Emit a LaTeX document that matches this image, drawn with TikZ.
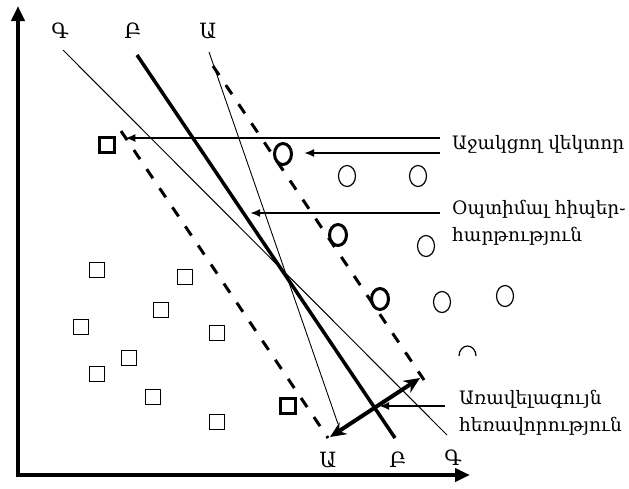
\documentclass[tikz,border=0pt]{standalone}
\usepackage{fontspec}
\newfontfamily\armfont{DejaVu Serif}
\usetikzlibrary{arrows.meta,shapes.geometric}

\tikzset{
  cuad/.style={draw, line width=1.3pt, minimum size=15pt, inner sep=0pt},
  cuadsv/.style={cuad, line width=3.5pt},
  circ/.style={draw, ellipse, line width=1.2pt, minimum width=17pt, minimum height=21pt, inner sep=0pt},
  circsv/.style={circ, line width=3pt},
  etiq/.style={font=\armfont\fontsize{21}{26}\selectfont, inner sep=0pt},
  texto/.style={font=\armfont\fontsize{18.5}{27}\selectfont, inner sep=0pt, anchor=west, align=left},
  flecha/.style={line width=2pt, -{Latex[length=10pt,width=8pt]}}
}

\begin{document}
\begin{tikzpicture}[x=1pt,y=-1pt]
    \useasboundingbox (0,0) rectangle (629,488);

    % Ejes
    \coordinate (o) at (18,475);
    \coordinate (yfin) at (18,6);
    \coordinate (xfin) at (470,475);
    \draw[line width=4pt, -{Triangle[length=15pt,width=13pt]}] (o) -- (yfin);
    \draw[line width=4pt, -{Triangle[length=15pt,width=13pt]}] ([xshift=-2pt]o) -- (xfin);

    % Rectas separadoras
    \node[etiq] (g1) at (60,31) {Գ};
    \node[etiq] (b1) at (133,31) {Բ};
    \node[etiq] (a1) at (208,31) {Ա};
    \node[etiq] (a2) at (328,460) {Ա};
    \node[etiq] (b2) at (398,460) {Բ};
    \node[etiq] (g2) at (453,458) {Գ};
    \draw[line width=1pt] (63,50) -- (447,435);
    \draw[line width=3.5pt] (137,55) -- (395,438);
    \draw[line width=0.9pt] (209,52) -- (338,424);

    % Margenes
    \draw[line width=3pt, dash pattern=on 11pt off 12pt] (121,131) -- (328,438);
    \draw[line width=3pt, dash pattern=on 11pt off 12pt] (213,66) -- (424,380);

    % Clase de cuadrados
    \node[cuadsv] (s1) at (107,145) {};
    \node[cuadsv] (s2) at (288,406) {};
    \foreach \x/\y in {97/270, 185/277, 161/310, 81/327, 217/333, 129/358, 97/374, 153/397, 217/422}
        \node[cuad] at (\x,\y) {};

    % Clase de circulos
    \node[circsv] (c1) at (283,154) {};
    \node[circsv] (c2) at (338,235) {};
    \node[circsv] (c3) at (380,299) {};
    \foreach \x/\y in {347/176, 418/176, 426/246, 442/302, 505/296}
        \node[circ] at (\x,\y) {};
    \draw[line width=1.2pt] (459,356) arc[start angle=180, end angle=0, x radius=8.5pt, y radius=10pt];

    % Vectores soporte
    \node[texto] (tsv) at (452,145) {Աջակցող վեկտոր};
    \coordinate (p1) at (440,138);
    \coordinate (p2) at (440,153);
    \draw[flecha] (p1) -- ([xshift=9pt]s1.east |- p1);
    \draw[flecha] (p2) -- ([xshift=11pt]c1.east |- p2);

    % Hiperplano optimo
    \node[texto, anchor=north west] (thp) at (452,200) {Օպտիմալ հիպեր֊\\հարթություն};
    \coordinate (p3) at (440,213);
    \coordinate (q3) at (250,213);
    \draw[flecha] (p3) -- (q3);

    % Margen maximo
    \node[texto, anchor=north west] (tmm) at (459,390) {Առավելագույն\\հեռավորություն};
    \coordinate (m1) at (330,437);
    \coordinate (m2) at (420,378);
    \coordinate (p4) at (445,406);
    \coordinate (q4) at (379,406);
    \draw[line width=4pt, {Stealth[length=16pt,width=14pt]}-{Stealth[length=16pt,width=14pt]}] (m1) -- (m2);
    \draw[flecha] (p4) -- (q4);
\end{tikzpicture}
\end{document}
